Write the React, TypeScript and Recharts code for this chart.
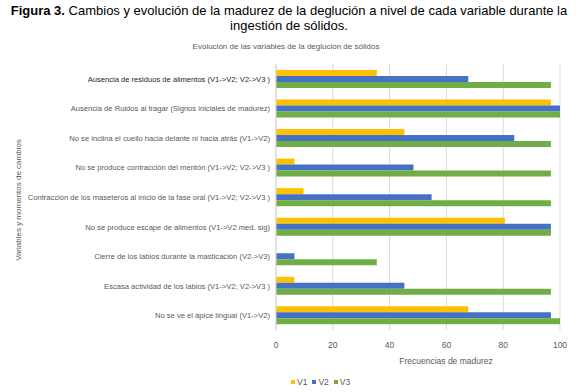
import {
  BarChart,
  Bar,
  XAxis,
  YAxis,
  CartesianGrid,
} from "recharts";

const categories = [
  "Ausencia de residuos de alimentos (V1->V2; V2->V3 )",
  "Ausencia de Ruidos al tragar (Signos iniciales de madurez)",
  "No se inclina el cuello hacia delante ni hacia atrás (V1->V2)",
  "No se produce contracción del mentón (V1->V2; V2->V3 )",
  "Contracción de los maseteros al inicio de la fase oral (V1->V2; V2->V3 )",
  "No se produce escape de alimentos (V1->V2 med. sig)",
  "Cierre de los labios durante la masticación (V2->V3)",
  "Escasa actividad de los labios (V1->V2; V2->V3 )",
  "No se ve el ápice lingual (V1->V2)",
];

const v1 = [35.5, 96.8, 45.2, 6.5, 9.7, 80.6, 0, 6.5, 67.7];
const v2 = [67.7, 100, 83.9, 48.4, 54.8, 96.8, 6.5, 45.2, 96.8];
const v3 = [96.8, 100, 96.8, 96.8, 96.8, 96.8, 35.5, 96.8, 100];

const xTicks = [0, 20, 40, 60, 80, 100];

const series = [
  { key: "V1", color: "#FFC000" },
  { key: "V2", color: "#4472C4" },
  { key: "V3", color: "#70AD47" },
];

const data = categories.map((name, i) => ({
  name,
  V1: v1[i],
  V2: v2[i],
  V3: v3[i],
}));

const font = "'Liberation Sans', Arial, sans-serif";

function CatTick(props: any) {
  const { x, y, payload, index } = props;
  return (
    <text
      x={x}
      y={y}
      dy={3}
      textAnchor="end"
      fontSize={7.6}
      fontFamily={font}
      fill={index === 0 ? "#262626" : "#595959"}
    >
      {payload.value}
    </text>
  );
}

export default function App() {
  return (
    <div
      style={{
        position: "absolute",
        left: 0,
        top: 0,
        width: 578,
        height: 392,
        background: "#fff",
        fontFamily: font,
      }}
    >
      <div
        style={{
          position: "absolute",
          left: 0,
          top: 3,
          width: 578,
          textAlign: "center",
          fontSize: 13,
          lineHeight: "15px",
          color: "#000",
        }}
      >
        <b>Figura 3.</b> Cambios y evolución de la madurez de la deglución a nivel de cada variable durante la
        <br />
        ingestión de sólidos.
      </div>
      <div
        style={{
          position: "absolute",
          left: 186,
          top: 42,
          width: 200,
          textAlign: "center",
          fontSize: 8,
          color: "#595959",
          whiteSpace: "nowrap",
        }}
      >
        Evolución de las variables de la deglución de sólidos
      </div>
      <div
        style={{
          position: "absolute",
          left: 346,
          top: 356,
          width: 200,
          textAlign: "center",
          fontSize: 8.5,
          color: "#595959",
        }}
      >
        Frecuencias de madurez
      </div>
      <div
        style={{
          position: "absolute",
          left: 18,
          top: 200,
          fontSize: 8,
          color: "#595959",
          whiteSpace: "nowrap",
          transform: "translate(-50%, -50%) rotate(-90deg)",
        }}
      >
        Variables y momentos de cambios
      </div>
      <div
        style={{
          position: "absolute",
          left: 291,
          top: 377,
          display: "flex",
          gap: 5,
          fontSize: 8.5,
          color: "#595959",
        }}
      >
        {series.map((s) => (
          <span key={s.key} style={{ display: "flex", alignItems: "center", gap: 2 }}>
            <span style={{ width: 4, height: 4, background: s.color, display: "inline-block" }} />
            {s.key}
          </span>
        ))}
      </div>
      <div style={{ position: "absolute", left: 0, top: 0 }}>
        <BarChart
          width={578}
          height={392}
          data={data}
          layout="vertical"
          margin={{ top: 64, right: 18, bottom: 32, left: 20 }}
          barCategoryGap="20%"
          barGap={0}
        >
          <CartesianGrid horizontal={false} stroke="#d9d9d9" />
          <XAxis
            type="number"
            domain={[0, 100]}
            ticks={xTicks}
            axisLine={false}
            tickLine={false}
            tickSize={0}
            tickMargin={12}
            height={30}
            tick={{ fontSize: 8.5, fill: "#595959", fontFamily: font }}
          />
          <YAxis
            type="category"
            dataKey="name"
            width={256}
            interval={0}
            tickLine={false}
            tickSize={0}
            tickMargin={6}
            axisLine={{ stroke: "#d9d9d9" }}
            tick={<CatTick />}
          />
          {series.map((s) => (
            <Bar key={s.key} dataKey={s.key} fill={s.color} isAnimationActive={false} />
          ))}
        </BarChart>
      </div>
    </div>
  );
}
